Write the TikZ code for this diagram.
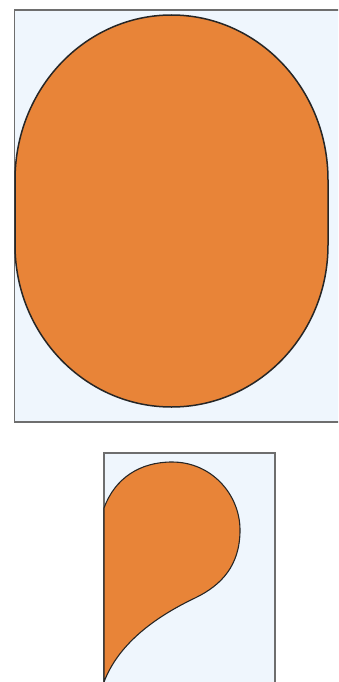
\documentclass[tikz,border=0pt]{standalone}
\definecolor{bgblue}{RGB}{239,246,253}
\definecolor{fillor}{RGB}{232,132,56}
\definecolor{frame}{RGB}{110,110,110}
\begin{document}
\begin{tikzpicture}[x=1pt,y=-1pt,
  panel/.style={draw=frame,fill=bgblue,line width=1.2pt},
  blob/.style={draw=black!85,fill=fillor,line width=1.5pt}]
\useasboundingbox (0,0) rectangle (338,682);
\clip (0,0) rectangle (338,682);
\fill[white] (0,0) rectangle (338,682);
% top panel
\path[panel] (14.5,10) rectangle (342,422);
\path[blob] (15,180) arc[start angle=180,end angle=360,x radius=156.5,y radius=165]
  -- (328,245) arc[start angle=0,end angle=180,x radius=156.5,y radius=162] -- cycle;
% bottom panel
\path[panel] (104,453) rectangle (275,690);
\path[blob,line width=1.1pt] (104,508) .. controls (115,478) and (140,462) .. (172,462)
  .. controls (212,462) and (240,495) .. (240,530)
  .. controls (240,565) and (222,585) .. (195,598)
  .. controls (153,618) and (118,645) .. (104,682) -- cycle;
\end{tikzpicture}
\end{document}
